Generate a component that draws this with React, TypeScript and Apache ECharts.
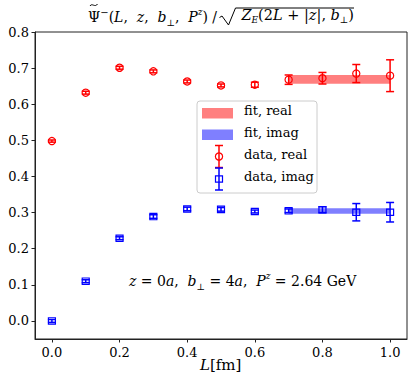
import React, { useEffect, useRef } from 'react';
import * as echarts from 'echarts';

const lValues = [0.0, 0.1, 0.2, 0.3, 0.4, 0.5, 0.6, 0.7, 0.8, 0.9, 1.0];
const realValues = [0.498, 0.632, 0.701, 0.691, 0.663, 0.652, 0.654, 0.668, 0.672, 0.685, 0.679];
const realErrors = [0.003, 0.004, 0.004, 0.004, 0.004, 0.004, 0.007, 0.013, 0.016, 0.025, 0.044];
const imagValues = [0.0, 0.110, 0.229, 0.289, 0.310, 0.309, 0.303, 0.305, 0.308, 0.301, 0.301];
const imagErrors = [0.004, 0.004, 0.004, 0.005, 0.005, 0.005, 0.004, 0.005, 0.008, 0.024, 0.027];
const fitRange = [0.7, 1.0];
const fitReal = [0.657, 0.681];
const fitImag = [0.297, 0.312];
const xTicks = [0.0, 0.2, 0.4, 0.6, 0.8, 1.0];
const yTicks = [0.0, 0.1, 0.2, 0.3, 0.4, 0.5, 0.6, 0.7, 0.8];

const FONT = 'DejaVu Serif';
const RED = '#ff0000';
const BLUE = '#0000ff';

function errorBarRenderer(color: string, marker: 'circle' | 'square') {
  return (params: any, api: any) => {
    const x = api.value(0);
    const y = api.value(1);
    const e = api.value(2);
    const c = api.coord([x, y]);
    const t = api.coord([x, y + e]);
    const b = api.coord([x, y - e]);
    const cap = 4;
    const st = { stroke: color, lineWidth: 1.5, fill: 'none' };
    const children: any[] = [
      { type: 'line', shape: { x1: c[0], y1: t[1], x2: c[0], y2: b[1] }, style: st },
      { type: 'line', shape: { x1: c[0] - cap, y1: t[1], x2: c[0] + cap, y2: t[1] }, style: st },
      { type: 'line', shape: { x1: c[0] - cap, y1: b[1], x2: c[0] + cap, y2: b[1] }, style: st },
    ];
    if (marker === 'circle') {
      children.push({ type: 'circle', shape: { cx: c[0], cy: c[1], r: 3.6 }, style: { stroke: color, lineWidth: 1.2, fill: 'none' } });
    } else {
      children.push({ type: 'rect', shape: { x: c[0] - 3.5, y: c[1] - 3.2, width: 7, height: 6.4 }, style: { stroke: color, lineWidth: 1.2, fill: 'none' } });
    }
    return { type: 'group', children };
  };
}

function bandRenderer(color: string) {
  return (params: any, api: any) => {
    const p1 = api.coord([api.value(0), api.value(3)]);
    const p2 = api.coord([api.value(1), api.value(2)]);
    return {
      type: 'rect',
      shape: { x: p1[0], y: p1[1], width: p2[0] - p1[0], height: p2[1] - p1[1] },
      style: { fill: color, opacity: 0.5 },
    };
  };
}

const mk = (size: number) => ({
  n: { fontFamily: FONT, fontSize: size, color: '#000', lineHeight: 20 },
  i: { fontFamily: FONT, fontSize: size, fontStyle: 'italic', color: '#000', lineHeight: 20 },
  sup: { fontFamily: FONT, fontSize: 9, fontStyle: 'italic', color: '#000', verticalAlign: 'top', lineHeight: 20 },
  supn: { fontFamily: FONT, fontSize: 10, color: '#000', verticalAlign: 'top', lineHeight: 20 },
  sub: { fontFamily: FONT, fontSize: 9, color: '#000', verticalAlign: 'bottom', lineHeight: 20 },
  subi: { fontFamily: FONT, fontSize: 9, fontStyle: 'italic', color: '#000', verticalAlign: 'bottom', lineHeight: 20 },
});

export default function App() {
  const ref = useRef<HTMLDivElement>(null);
  useEffect(() => {
    if (!ref.current) return;
    const chart = echarts.init(ref.current, null, { renderer: 'svg' });
    const realData = lValues.map((l, k) => [l, realValues[k], realErrors[k]]);
    const imagData = lValues.map((l, k) => [l, imagValues[k], imagErrors[k]]);
    const legendRow = (y: number, label: string) => ({
      type: 'text', left: 244, top: y - 9, z: 22,
      style: { text: label, fontFamily: FONT, fontSize: 13, fill: '#000' },
    });
    const legendBar = (y: number, color: string, marker: 'circle' | 'square') => {
      const cx = 219;
      const st = { stroke: color, lineWidth: 1.5 };
      const ch: any[] = [
        { type: 'line', z: 22, shape: { x1: cx, y1: y - 11, x2: cx, y2: y + 11 }, style: st },
        { type: 'line', z: 22, shape: { x1: cx - 4, y1: y - 11, x2: cx + 4, y2: y - 11 }, style: st },
        { type: 'line', z: 22, shape: { x1: cx - 4, y1: y + 11, x2: cx + 4, y2: y + 11 }, style: st },
      ];
      if (marker === 'circle') ch.push({ type: 'circle', z: 23, shape: { cx, cy: y, r: 3.6 }, style: { stroke: color, lineWidth: 1.2, fill: 'rgba(0,0,0,0)' } });
      else ch.push({ type: 'rect', z: 23, shape: { x: cx - 3.5, y: y - 3.2, width: 7, height: 6.4 }, style: { stroke: color, lineWidth: 1.2, fill: 'rgba(0,0,0,0)' } });
      return ch;
    };
    chart.setOption({
      animation: false,
      grid: { left: 35, right: 8, top: 32, bottom: 52, show: true, borderColor: '#222', borderWidth: 1 },
      xAxis: {
        type: 'value', min: -0.05, max: 1.05,
        axisLine: { show: true, onZero: false, lineStyle: { color: '#222' } },
        axisTick: { show: true, length: 3.5, customValues: xTicks, lineStyle: { color: '#222' } },
        axisLabel: { customValues: xTicks, formatter: (v: number) => v.toFixed(1), fontFamily: FONT, fontSize: 13, color: '#000', margin: 7 },
        splitLine: { show: false },
      },
      yAxis: {
        type: 'value', min: -0.05, max: 0.8,
        axisLine: { show: true, onZero: false, lineStyle: { color: '#222' } },
        axisTick: { show: true, length: 3.5, customValues: yTicks, lineStyle: { color: '#222' } },
        axisLabel: { customValues: yTicks, formatter: (v: number) => v.toFixed(1), fontFamily: FONT, fontSize: 13, color: '#000', margin: 6 },
        splitLine: { show: false },
      },
      series: [
        { type: 'custom', name: 'fit, real', renderItem: bandRenderer(RED), data: [[fitRange[0], fitRange[1], fitReal[0], fitReal[1]]], z: 1 },
        { type: 'custom', name: 'fit, imag', renderItem: bandRenderer(BLUE), data: [[fitRange[0], fitRange[1], fitImag[0], fitImag[1]]], z: 1 },
        { type: 'custom', name: 'data, real', renderItem: errorBarRenderer(RED, 'circle'), data: realData, z: 2 },
        { type: 'custom', name: 'data, imag', renderItem: errorBarRenderer(BLUE, 'square'), data: imagData, z: 2 },
      ],
      graphic: [
        {
          type: 'text', left: 88, top: 7, z: 10,
          style: {
            text: '{n|Ψ}{supn|−}{n|(}{i|L}{n|,  }{i|z}{n|,  }{i|b}{sub|⊥}{n|,  }{i|P}{sup|z}{n|) /}',
            rich: mk(14) as any,
          },
        },
        {
          type: 'bezierCurve', z: 10,
          shape: { x1: 90, y1: 6, cpx1: 92, cpy1: 2.5, cpx2: 95, cpy2: 8, x2: 97.5, y2: 4 },
          style: { stroke: '#000', lineWidth: 1, fill: 'none' },
        },
        {
          type: 'polyline', z: 10,
          shape: { points: [[219.5, 17.5], [222, 16], [228.5, 25], [235.5, 8], [354, 8]] },
          style: { stroke: '#000', lineWidth: 1, fill: 'none' },
        },
        {
          type: 'text', right: 415 - 354, top: 7, z: 10,
          style: {
            text: '{i|Z}{subi|E}{n|(2}{i|L}{n| + |}{i|z}{n||, }{i|b}{sub|⊥}{n|)}',
            rich: mk(14.5) as any,
          },
        },
        {
          type: 'text', left: 129, top: 271, z: 10,
          style: {
            text: '{i|z}{n| = 0}{i|a}{n|,  }{i|b}{sub|⊥}{n| = 4}{i|a}{n|,  }{i|P}{sup|z}{n| = 2.64 GeV}',
            rich: mk(14) as any,
          },
        },
        {
          type: 'text', left: 200, top: 357, z: 10,
          style: { text: '{i|L}{n|[fm]}', rich: mk(15) as any },
        },
        {
          type: 'rect', z: 20, shape: { x: 197, y: 101, width: 120, height: 92, r: 3 },
          style: { fill: 'rgba(255,255,255,0.8)', stroke: '#cccccc', lineWidth: 1 },
        },
        { type: 'rect', z: 21, shape: { x: 202, y: 108, width: 31, height: 10.5 }, style: { fill: RED, opacity: 0.5 } },
        { type: 'rect', z: 21, shape: { x: 202, y: 129.5, width: 31, height: 10.5 }, style: { fill: BLUE, opacity: 0.5 } },
        ...legendBar(156.5, RED, 'circle'),
        ...legendBar(179, BLUE, 'square'),
        legendRow(113, 'fit, real'),
        legendRow(134.5, 'fit, imag'),
        legendRow(156.5, 'data, real'),
        legendRow(179, 'data, imag'),
      ],
    });
    return () => chart.dispose();
  }, []);
  return <div ref={ref} style={{ width: 415, height: 391, position: 'absolute', left: 0, top: 0 }} />;
}
